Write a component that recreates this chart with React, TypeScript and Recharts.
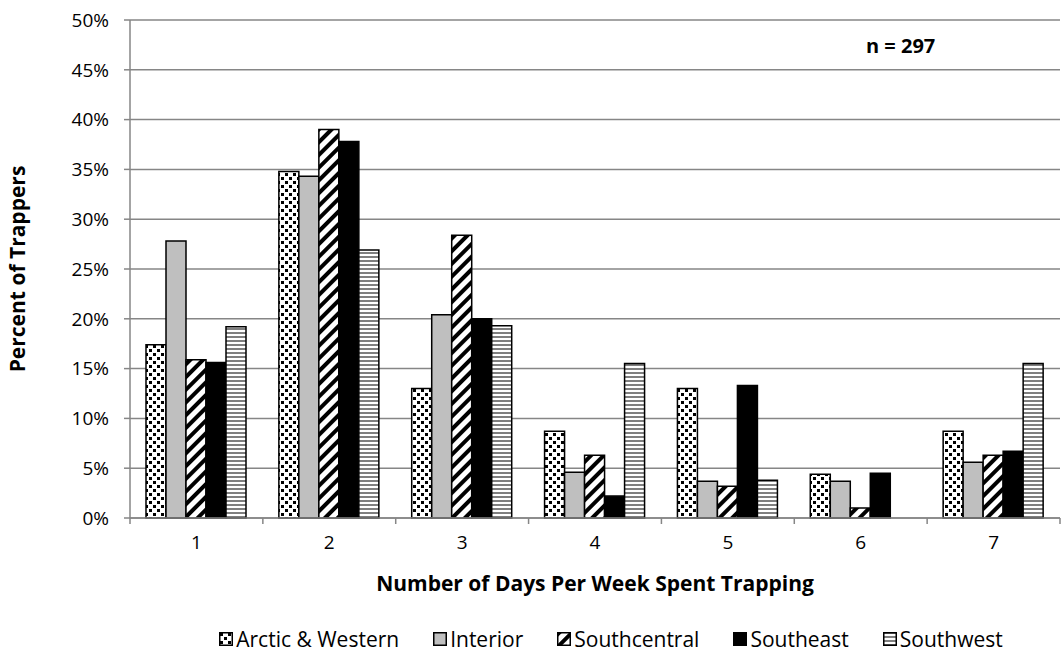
import React from 'react';
import { BarChart, Bar, XAxis, YAxis, CartesianGrid, Legend } from 'recharts';

const days = ['1', '2', '3', '4', '5', '6', '7'];
const arcticWestern = [17.4, 34.8, 13.0, 8.7, 13.0, 4.4, 8.7];
const interior = [27.8, 34.3, 20.4, 4.6, 3.7, 3.7, 5.6];
const southcentral = [15.9, 39.0, 28.4, 6.3, 3.2, 1.0, 6.3];
const southeast = [15.6, 37.8, 20.0, 2.2, 13.3, 4.5, 6.7];
const southwest = [19.2, 26.9, 19.3, 15.5, 3.8, 0, 15.5];
const yTicks = [0, 5, 10, 15, 20, 25, 30, 35, 40, 45, 50];

const chartData = days.map((d, i) => ({
  day: d,
  arctic: arcticWestern[i],
  interior: interior[i],
  southcentral: southcentral[i],
  southeast: southeast[i],
  southwest: southwest[i],
}));

const series = [
  { key: 'arctic', name: 'Arctic & Western', fill: 'url(#dots)' },
  { key: 'interior', name: 'Interior', fill: '#BFBFBF' },
  { key: 'southcentral', name: 'Southcentral', fill: 'url(#diag)' },
  { key: 'southeast', name: 'Southeast', fill: '#000000' },
  { key: 'southwest', name: 'Southwest', fill: 'url(#hstripe)' },
];

const FONT = "'Open Sans', sans-serif";
const W = 1062;
const H = 652;
const LEFT = 130;
const RIGHT = 2;
const AXIS_GRAY = '#868686';
const halfBand = (W - LEFT - RIGHT) / days.length / 2;

// ticks sit between categories like in excel
const DayTick = (props: any) => {
  const { x, y, payload, index } = props;
  return (
    <g>
      <line x1={x - halfBand} y1={y - 8} x2={x - halfBand} y2={y - 2} stroke={AXIS_GRAY} strokeWidth={1.5} />
      {index === days.length - 1 && (
        <line x1={x + halfBand} y1={y - 8} x2={x + halfBand} y2={y - 2} stroke={AXIS_GRAY} strokeWidth={1.5} />
      )}
      <text x={x} y={y + 23} textAnchor="middle" fontSize={19} fontFamily={FONT} fill="#000">
        {payload.value}
      </text>
    </g>
  );
};

const Swatch = ({ fill }: { fill: string }) => (
  <svg width={14} height={14} style={{ marginRight: 3 }}>
    <rect x={0.75} y={0.75} width={12.5} height={12.5} fill={fill} stroke="#000" strokeWidth={1.5} />
  </svg>
);

const LegendBox = () => (
  <div style={{ display: 'flex', justifyContent: 'center', alignItems: 'center', height: 30, gap: 34, fontFamily: FONT, fontSize: 21, color: '#000' }}>
    {series.map((s) => (
      <div key={s.key} style={{ display: 'flex', alignItems: 'center' }}>
        <Swatch fill={s.fill} />
        <span>{s.name}</span>
      </div>
    ))}
  </div>
);

export default function App() {
  return (
    <div style={{ position: 'absolute', left: 0, top: 0, width: W, height: H, background: '#fff' }}>
      <BarChart
        width={W}
        height={H}
        data={chartData}
        barGap={0}
        barSize={20}
        margin={{ top: 20, right: RIGHT, left: 0, bottom: 29 }}
      >
        <defs>
          <pattern id="dots" width={8} height={8} patternUnits="userSpaceOnUse">
            <rect width={8} height={8} fill="#fff" />
            <rect x={1} y={1} width={3} height={3} fill="#000" />
            <rect x={5} y={5} width={3} height={3} fill="#000" />
          </pattern>
          <pattern id="diag" width={9} height={9} patternUnits="userSpaceOnUse" patternTransform="rotate(45)">
            <rect width={9} height={9} fill="#fff" />
            <rect width={4} height={9} fill="#000" />
          </pattern>
          <pattern id="hstripe" width={4} height={4} patternUnits="userSpaceOnUse">
            <rect width={4} height={4} fill="#fff" />
            <rect width={4} height={2} fill="#7f7f7f" />
          </pattern>
        </defs>
        <CartesianGrid vertical={false} stroke={AXIS_GRAY} strokeWidth={1.5} />
        <XAxis
          dataKey="day"
          height={75}
          axisLine={{ stroke: AXIS_GRAY, strokeWidth: 1.5 }}
          tickLine={false}
          tick={<DayTick />}
          interval={0}
          label={{ value: 'Number of Days Per Week Spent Trapping', position: 'insideBottom', offset: 2, fontSize: 21, fontWeight: 'bold', fontFamily: FONT, fill: '#000' }}
        />
        <YAxis
          width={LEFT}
          domain={[0, 50]}
          ticks={yTicks}
          tickFormatter={(v) => `${v}%`}
          axisLine={{ stroke: AXIS_GRAY, strokeWidth: 1.5 }}
          tickLine={{ stroke: AXIS_GRAY, strokeWidth: 1.5 }}
          tickSize={6}
          tickMargin={15}
          tick={{ fontSize: 19, fontFamily: FONT, fill: '#000' }}
          label={{ value: 'Percent of Trappers', angle: -90, position: 'insideLeft', offset: 18, style: { textAnchor: 'middle' }, fontSize: 21, fontWeight: 'bold', fontFamily: FONT, fill: '#000' }}
        />
        <Legend
          verticalAlign="bottom"
          content={<LegendBox />}
          wrapperStyle={{ position: 'absolute', left: 160, top: 624, width: W - 160, height: 30 }}
        />
        {series.map((s) => (
          <Bar
            key={s.key}
            dataKey={s.key}
            name={s.name}
            fill={s.fill}
            stroke="#000"
            strokeWidth={1.5}
            isAnimationActive={false}
          />
        ))}
      </BarChart>
      <div style={{ position: 'absolute', left: 866, top: 32, fontFamily: FONT, fontWeight: 'bold', fontSize: 20, color: '#000' }}>
        n = 297
      </div>
    </div>
  );
}
